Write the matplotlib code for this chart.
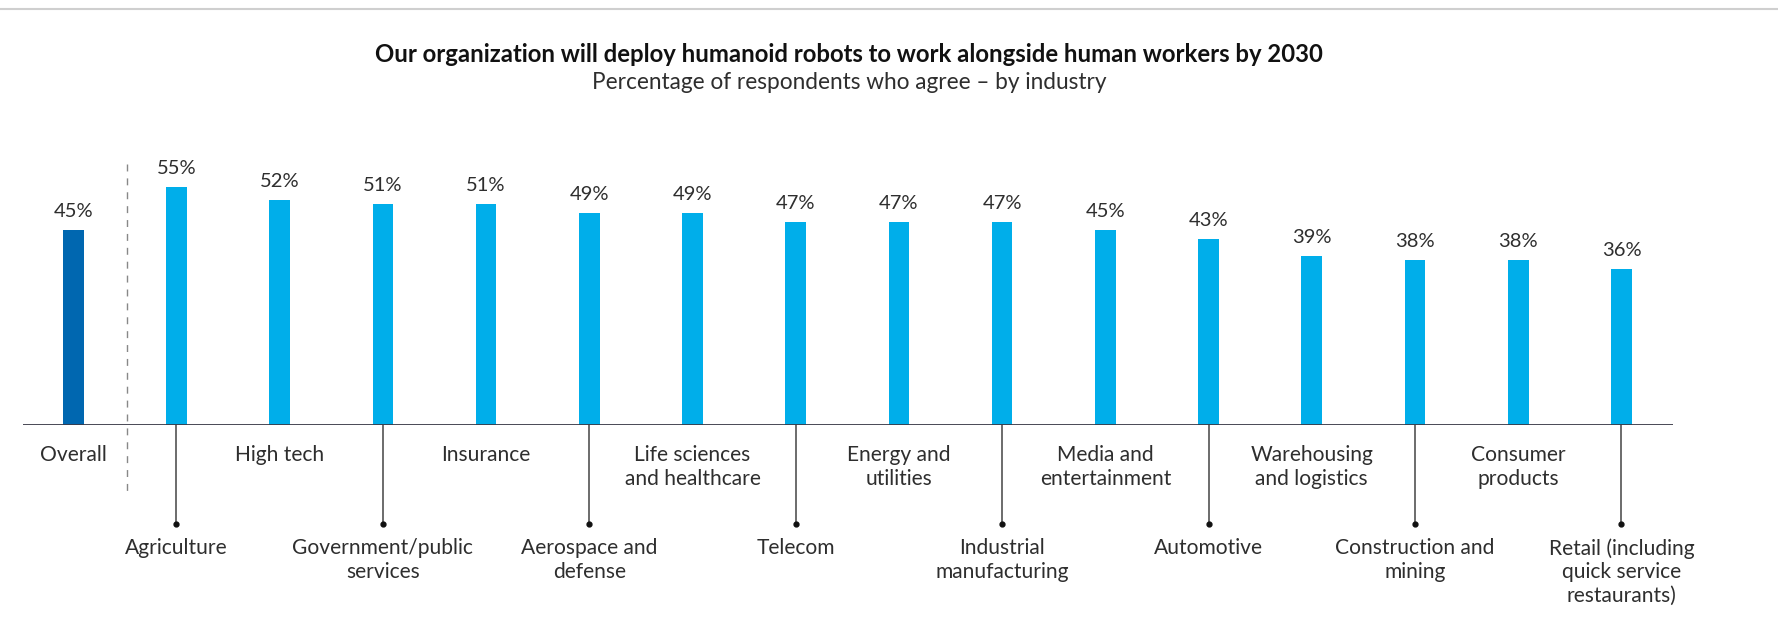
import matplotlib.pyplot as plt
from matplotlib.lines import Line2D

# data
categories = ['Overall', 'Agriculture', 'High tech', 'Government/public\nservices', 'Insurance',
              'Aerospace and\ndefense', 'Life sciences\nand healthcare', 'Telecom',
              'Energy and\nutilities', 'Industrial\nmanufacturing', 'Media and\nentertainment',
              'Automotive', 'Warehousing\nand logistics', 'Construction and\nmining',
              'Consumer\nproducts', 'Retail (including\nquick service\nrestaurants)']
values = [45, 55, 52, 51, 51, 49, 49, 47, 47, 47, 45, 43, 39, 38, 38, 36]

title = 'Our organization will deploy humanoid robots to work alongside human workers by 2030'
subtitle = 'Percentage of respondents who agree \u2013 by industry'

dark_blue = '#0067b0'
light_blue = '#00aeea'
text_col = '#2e2e2e'
FONT = 'Lato'

fig = plt.figure(figsize=(17.78, 6.33), dpi=100)
ax = fig.add_axes([0.01277, 0.3286, 0.9282, 0.5134])

x = list(range(len(values)))
colors = [dark_blue] + [light_blue] * (len(values) - 1)
ax.bar(x, values, width=0.2, color=colors, zorder=2)

ax.set_xlim(-0.49, 15.5)
ax.set_ylim(0, 75.06)
ax.axis('off')
ax.axhline(0, color='#3a3a48', lw=1.3, zorder=3)

# value labels
for i, v in enumerate(values):
    ax.text(i, v + 3.0, f'{v}%', ha='center', va='baseline', fontsize=14.5,
            color=text_col, family=FONT)

# category labels: alternate rows, lower row with leader lines
for i, lab in enumerate(categories):
    if i % 2 == 0:
        ax.text(i, -4.6, lab, ha='center', va='top', fontsize=15.1, color=text_col,
                family=FONT, linespacing=1.24, clip_on=False)
    else:
        ax.add_line(Line2D([i, i], [0, -22.86], color='#444444', lw=1.1, clip_on=False))
        ax.plot([i], [-22.86], 'o', ms=3.5, color='#111111', clip_on=False)
        ax.text(i, -26.1, lab, ha='center', va='top', fontsize=15.1, color=text_col,
                family=FONT, linespacing=1.24, clip_on=False)

# dashed separator after Overall
ax.add_line(Line2D([0.52, 0.52], [60.3, -15.2], color='#888888', lw=1, ls=(0, (5, 5)),
                   clip_on=False))

fig.text(0.4775, 0.9025, title, ha='center', va='baseline', fontsize=17.2,
         fontweight='bold', color='#111111', family=FONT)
fig.text(0.4775, 0.859, subtitle, ha='center', va='baseline', fontsize=16.3,
         color=text_col, family=FONT)

fig.add_artist(Line2D([0, 1], [0.9858, 0.9858], color='#cfcfcf', lw=1.5,
                      transform=fig.transFigure))

fig.savefig('out.png', dpi=100, facecolor='white')
